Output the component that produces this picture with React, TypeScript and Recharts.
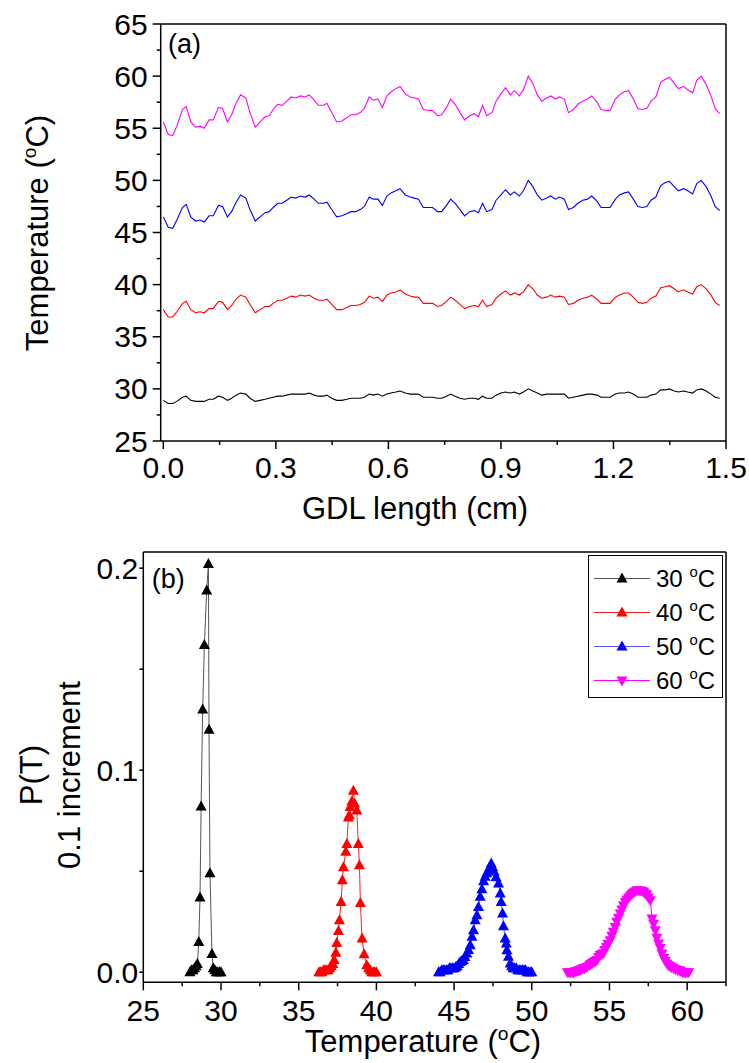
import React from "react";
import { LineChart, Line, XAxis, YAxis, Legend } from "recharts";

const FONT = "'Liberation Sans', Arial, Helvetica, sans-serif";

// (a) temperature along the GDL, one trace per set point
const gdlX = [
  0.000, 0.013, 0.025, 0.036, 0.051, 0.061, 0.073, 0.086, 0.098, 0.109,
  0.122, 0.133, 0.147, 0.158, 0.171, 0.182, 0.194, 0.206, 0.220, 0.231,
  0.245, 0.258, 0.271, 0.282, 0.293, 0.305, 0.317, 0.329, 0.341, 0.353,
  0.365, 0.378, 0.389, 0.402, 0.413, 0.427, 0.436, 0.449, 0.462, 0.476,
  0.489, 0.500, 0.513, 0.525, 0.536, 0.549, 0.560, 0.572, 0.584, 0.596,
  0.607, 0.620, 0.631, 0.645, 0.658, 0.669, 0.680, 0.693, 0.707, 0.718,
  0.731, 0.742, 0.755, 0.766, 0.778, 0.791, 0.803, 0.816, 0.829, 0.840,
  0.851, 0.862, 0.876, 0.887, 0.900, 0.912, 0.925, 0.936, 0.949, 0.960,
  0.973, 0.985, 0.997, 1.009, 1.022, 1.033, 1.045, 1.056, 1.069, 1.080,
  1.093, 1.105, 1.118, 1.131, 1.142, 1.156, 1.167, 1.180, 1.191, 1.205,
  1.216, 1.229, 1.240, 1.253, 1.265, 1.277, 1.289, 1.300, 1.313, 1.326,
  1.338, 1.349, 1.362, 1.373, 1.387, 1.398, 1.411, 1.422, 1.434, 1.447,
  1.460, 1.471, 1.483,
];
const temp30 = [
  28.9, 28.6, 28.6, 28.8, 29.2, 29.3, 28.9, 28.8, 28.8, 28.8,
  29.0, 29.0, 29.3, 29.2, 28.9, 29.1, 29.4, 29.6, 29.5, 29.1,
  28.8, 28.9, 29.0, 29.1, 29.2, 29.3, 29.3, 29.4, 29.5, 29.5,
  29.5, 29.5, 29.6, 29.4, 29.3, 29.3, 29.4, 29.1, 28.9, 28.9,
  29.0, 29.1, 29.1, 29.1, 29.2, 29.5, 29.4, 29.5, 29.3, 29.5,
  29.6, 29.7, 29.8, 29.6, 29.5, 29.5, 29.5, 29.2, 29.2, 29.2,
  29.1, 29.1, 29.3, 29.5, 29.3, 29.1, 29.0, 29.1, 29.1, 29.0,
  29.3, 29.1, 29.1, 29.4, 29.6, 29.7, 29.6, 29.7, 29.5, 29.7,
  30.0, 29.8, 29.6, 29.4, 29.5, 29.5, 29.5, 29.5, 29.5, 29.1,
  29.2, 29.3, 29.4, 29.5, 29.5, 29.4, 29.2, 29.2, 29.2, 29.5,
  29.6, 29.6, 29.7, 29.5, 29.2, 29.2, 29.2, 29.4, 29.5, 29.9,
  29.9, 30.0, 29.8, 29.7, 29.8, 29.7, 29.6, 29.9, 30.0, 29.8,
  29.5, 29.2, 29.1,
];
const temp40 = [
  37.6, 36.9, 36.9, 37.4, 38.2, 38.4, 37.6, 37.3, 37.4, 37.3,
  37.7, 37.7, 38.4, 38.3, 37.6, 38.0, 38.6, 39.0, 38.8, 38.1,
  37.3, 37.6, 37.9, 37.9, 38.2, 38.5, 38.5, 38.7, 38.9, 38.8,
  39.0, 38.9, 39.0, 38.7, 38.5, 38.5, 38.6, 38.1, 37.6, 37.6,
  37.8, 38.0, 38.0, 38.1, 38.3, 38.9, 38.7, 38.8, 38.4, 39.0,
  39.2, 39.3, 39.5, 39.1, 38.9, 38.8, 38.8, 38.2, 38.2, 38.2,
  37.9, 38.0, 38.4, 38.8, 38.5, 38.1, 37.7, 37.9, 38.0, 37.9,
  38.5, 37.9, 38.1, 38.7, 39.1, 39.4, 39.0, 39.2, 39.0, 39.3,
  40.0, 39.6, 39.0, 38.7, 38.8, 39.0, 38.8, 38.9, 38.8, 38.1,
  38.2, 38.5, 38.7, 38.8, 39.0, 38.6, 38.2, 38.2, 38.2, 38.8,
  39.0, 39.2, 39.2, 38.8, 38.3, 38.2, 38.3, 38.7, 38.9, 39.7,
  39.8, 39.9, 39.6, 39.3, 39.5, 39.3, 39.1, 39.8, 40.0, 39.6,
  39.0, 38.3, 38.0,
];
const temp50 = [
  46.5, 45.5, 45.4, 46.2, 47.4, 47.7, 46.5, 46.1, 46.2, 46.0,
  46.6, 46.6, 47.6, 47.5, 46.5, 47.0, 47.9, 48.6, 48.3, 47.2,
  46.1, 46.5, 46.9, 47.0, 47.4, 47.8, 47.8, 48.1, 48.4, 48.3,
  48.5, 48.4, 48.6, 48.2, 47.8, 47.8, 47.9, 47.2, 46.5, 46.6,
  46.8, 47.0, 47.0, 47.2, 47.5, 48.4, 48.2, 48.2, 47.6, 48.5,
  48.8, 49.0, 49.2, 48.6, 48.4, 48.3, 48.2, 47.4, 47.4, 47.4,
  47.0, 47.0, 47.6, 48.2, 47.8, 47.2, 46.6, 47.0, 47.1, 46.9,
  47.8, 47.0, 47.2, 48.1, 48.6, 49.1, 48.6, 48.9, 48.5, 49.0,
  50.0, 49.4, 48.6, 48.1, 48.3, 48.5, 48.2, 48.4, 48.2, 47.2,
  47.4, 47.8, 48.1, 48.2, 48.5, 48.0, 47.4, 47.4, 47.4, 48.2,
  48.6, 48.8, 48.9, 48.2, 47.5, 47.4, 47.5, 48.1, 48.4, 49.5,
  49.8, 49.9, 49.4, 49.0, 49.2, 49.0, 48.7, 49.7, 50.0, 49.4,
  48.5, 47.5, 47.1,
];
const temp60 = [
  55.6, 54.4, 54.3, 55.2, 56.8, 57.1, 55.6, 55.1, 55.2, 55.0,
  55.8, 55.8, 57.0, 56.9, 55.6, 56.3, 57.4, 58.2, 57.9, 56.5,
  55.1, 55.6, 56.1, 56.2, 56.8, 57.3, 57.2, 57.6, 58.0, 57.9,
  58.1, 58.0, 58.2, 57.7, 57.2, 57.2, 57.4, 56.5, 55.6, 55.7,
  56.0, 56.3, 56.3, 56.5, 56.9, 58.0, 57.7, 57.8, 57.0, 58.1,
  58.5, 58.8, 59.0, 58.3, 58.0, 57.9, 57.8, 56.8, 56.7, 56.7,
  56.2, 56.3, 57.0, 57.8, 57.3, 56.5, 55.8, 56.2, 56.4, 56.1,
  57.2, 56.2, 56.5, 57.6, 58.3, 58.9, 58.2, 58.6, 58.1, 58.7,
  60.0, 59.3, 58.2, 57.6, 57.9, 58.1, 57.8, 58.0, 57.8, 56.5,
  56.8, 57.3, 57.6, 57.8, 58.1, 57.5, 56.8, 56.7, 56.7, 57.8,
  58.2, 58.5, 58.6, 57.8, 56.9, 56.8, 56.9, 57.6, 58.0, 59.4,
  59.7, 59.9, 59.3, 58.8, 59.0, 58.7, 58.4, 59.6, 60.0, 59.2,
  58.1, 56.9, 56.4,
];

// (b) probability per 0.1 degC bin
const p30T = [28.0, 28.1, 28.2, 28.3, 28.4, 28.48, 28.57, 28.65, 28.72, 28.82, 28.93, 29.08, 29.19, 29.23, 29.29, 29.42, 29.5, 29.6, 29.7, 29.8, 29.9, 30.0];
const p30 = [0, 0.001, 0.001, 0.002, 0.003, 0.004, 0.015, 0.037, 0.082, 0.13, 0.162, 0.189, 0.202, 0.12, 0.049, 0.009, 0.002, 0.001, 0, 0, 0, 0];

const p40T = [
  36.3, 36.4, 36.5, 36.6, 36.7, 36.8, 36.9, 37.0, 37.1, 37.2,
  37.28, 37.39, 37.45, 37.56, 37.62, 37.73, 37.81, 37.88,
  38.03, 38.1, 38.2, 38.26, 38.31, 38.42, 38.52, 38.6, 38.74, 38.84, 38.91, 38.97,
  39.08, 39.21, 39.38, 39.5, 39.6, 39.7, 39.8, 39.9, 40.0,
];
const p40 = [
  0, 0, 0, 0.001, 0.001, 0.001, 0.001, 0.002, 0.003, 0.004,
  0.006, 0.0096, 0.0145, 0.0204, 0.0257, 0.0348, 0.0455, 0.052,
  0.0596, 0.0634, 0.0766, 0.0777, 0.0818, 0.0845, 0.0898, 0.0835, 0.08, 0.0634, 0.053, 0.0343,
  0.0167, 0.0089, 0.0035, 0.002, 0.001, 0, 0, 0, 0,
];

const p50T = [
  44.0, 44.1, 44.2, 44.3, 44.4, 44.5, 44.6, 44.7, 44.8, 44.9, 45.0, 45.1, 45.2, 45.3, 45.4, 45.5, 45.6, 45.7,
  45.82, 45.93, 46.04, 46.15, 46.25, 46.36, 46.47, 46.57, 46.68, 46.79, 46.9, 47.0, 47.1, 47.22, 47.3, 47.39,
  47.48, 47.58, 47.7, 47.86, 47.97, 48.03, 48.12, 48.18, 48.29, 48.36, 48.4, 48.5, 48.61,
  48.7, 48.8, 48.9, 49.0, 49.1, 49.2, 49.3, 49.4, 49.5, 49.6, 49.7, 49.8, 49.9, 50.0,
];
const p50 = [
  0, 0, 0.001, 0.001, 0.001, 0.001, 0.001, 0.002, 0.002, 0.002, 0.002, 0.0025, 0.003, 0.004, 0.005, 0.0055, 0.006, 0.0075,
  0.0093, 0.011, 0.0134, 0.0175, 0.0208, 0.0257, 0.0282, 0.0323, 0.0373, 0.041, 0.045, 0.0472, 0.049, 0.0505, 0.052, 0.0538,
  0.052, 0.0497, 0.047, 0.0439, 0.039, 0.0348, 0.029, 0.0228, 0.0167, 0.0142, 0.0109, 0.0076, 0.0043,
  0.003, 0.002, 0.002, 0.002, 0.001, 0.001, 0.001, 0.001, 0.001, 0.001, 0, 0, 0, 0,
];

const p60T = [
  52.3, 52.4, 52.5, 52.6, 52.7, 52.8, 52.9, 53.0, 53.1, 53.2, 53.3, 53.4,
  53.55, 53.7, 53.8, 53.9, 54.0, 54.1, 54.2, 54.3, 54.4, 54.5, 54.6, 54.7, 54.8, 54.9,
  55.05, 55.15, 55.25, 55.37, 55.47, 55.58, 55.69, 55.8, 55.9,
  56.02, 56.12, 56.23, 56.34, 56.45, 56.55, 56.66, 56.77, 56.88, 56.99,
  57.1, 57.2, 57.3, 57.4, 57.5, 57.63, 57.74, 57.84, 57.95,
  58.05, 58.16, 58.27, 58.38, 58.5, 58.6, 58.7, 58.8, 58.9, 59.0,
  59.13, 59.25, 59.4, 59.5, 59.6, 59.7, 59.8, 59.9, 60.0, 60.1,
];
const p60 = [
  0, 0, 0, 0, 0, 0.0005, 0.0005, 0.001, 0.001, 0.0015, 0.002, 0.002,
  0.0026, 0.0035, 0.004, 0.0045, 0.005, 0.0055, 0.006, 0.0075, 0.0085, 0.009, 0.0093, 0.011, 0.0125, 0.014,
  0.0158, 0.018, 0.02, 0.0224, 0.025, 0.027, 0.029, 0.031, 0.033,
  0.0348, 0.036, 0.037, 0.038, 0.0388, 0.0395, 0.04, 0.0406, 0.0405, 0.0404,
  0.0402, 0.0398, 0.039, 0.0385, 0.037, 0.0356, 0.0266, 0.024, 0.0208,
  0.017, 0.0142, 0.012, 0.0093, 0.007, 0.0055, 0.0043, 0.0035, 0.003, 0.0025,
  0.002, 0.0015, 0.001, 0.001, 0.0005, 0, 0, 0, 0, 0,
];

// ticks and their labels ("" = minor tick)
const gdlTicks = [0, 0.15, 0.3, 0.45, 0.6, 0.75, 0.9, 1.05, 1.2, 1.35, 1.5];
const gdlTickLabels = ["0.0", "", "0.3", "", "0.6", "", "0.9", "", "1.2", "", "1.5"];
const tempTicks = [25, 27.5, 30, 32.5, 35, 37.5, 40, 42.5, 45, 47.5, 50, 52.5, 55, 57.5, 60, 62.5, 65];
const tempTickLabels = ["25", "", "30", "", "35", "", "40", "", "45", "", "50", "", "55", "", "60", "", "65"];
const binTicks = [25, 27.5, 30, 32.5, 35, 37.5, 40, 42.5, 45, 47.5, 50, 52.5, 55, 57.5, 60, 62.5];
const binTickLabels = ["25", "", "30", "", "35", "", "40", "", "45", "", "50", "", "55", "", "60", ""];
const probTicks = [0, 0.05, 0.1, 0.15, 0.2];
const probTickLabels = ["0.0", "", "0.1", "", "0.2"];
const frameTicks = [0, 1, 2, 3, 4, 5, 6, 7, 8, 9, 10];

const legendNames = ["30", "40", "50", "60"];

const gdlRows = gdlX.map((x, i) => ({ x, t30: temp30[i], t40: temp40[i], t50: temp50[i], t60: temp60[i] }));
const pairs = (ts: number[], ps: number[]) => ts.map((t, i) => ({ t, p: ps[i] }));

const dists = [
  { name: legendNames[0], data: pairs(p30T, p30), fill: "#000000", line: "#555555", down: false },
  { name: legendNames[1], data: pairs(p40T, p40), fill: "#FF0000", line: "#FF2020", down: false },
  { name: legendNames[2], data: pairs(p50T, p50), fill: "#0000FF", line: "#5555FF", down: false },
  { name: legendNames[3], data: pairs(p60T, p60), fill: "#FF00FF", line: "#FF00FF", down: true },
];

function Tri({ cx, cy, fill, down }: { cx: number; cy: number; fill: string; down?: boolean }) {
  const pts = down
    ? `${cx},${cy + 6} ${cx - 5.5},${cy - 4} ${cx + 5.5},${cy - 4}`
    : `${cx},${cy - 6} ${cx - 5.5},${cy + 4} ${cx + 5.5},${cy + 4}`;
  return <polygon points={pts} fill={fill} />;
}

function bottomTick(labels: string[], labelDy: number) {
  return (p: any) => {
    const label = labels[p.index] ?? "";
    const len = label ? 8 : 4;
    return (
      <g>
        <line x1={p.x} x2={p.x} y1={p.y} y2={p.y + len} stroke="#000" strokeWidth={1.5} />
        {label && (
          <text x={p.x} y={p.y + labelDy} textAnchor="middle" fontSize={30} fontFamily={FONT} fill="#000">
            {label}
          </text>
        )}
      </g>
    );
  };
}

function leftTick(labels: string[], majorLen: number, gap: number) {
  return (p: any) => {
    const label = labels[p.index] ?? "";
    const len = label ? majorLen : 4;
    return (
      <g>
        <line x1={p.x - len} x2={p.x} y1={p.y} y2={p.y} stroke="#000" strokeWidth={1.5} />
        {label && (
          <text x={p.x - gap} y={p.y + 10.5} textAnchor="end" fontSize={30} fontFamily={FONT} fill="#000">
            {label}
          </text>
        )}
      </g>
    );
  };
}

const degC = (size: number) => (
  <>
    <tspan dy={-size * 0.4} fontSize={size * 0.62}>o</tspan>
    <tspan dy={size * 0.4}>C</tspan>
  </>
);

// px/py so that props cloned in by the axis label do not move the text
const TextAt = ({ px, py, size = 31, rotate, anchor = "middle", children }: any) => (
  <text
    x={px}
    y={py}
    fontSize={size}
    fontFamily={FONT}
    fill="#000"
    textAnchor={anchor}
    transform={rotate ? `rotate(-90 ${px} ${py})` : undefined}
  >
    {children}
  </text>
);

function PLegend() {
  return (
    <svg width={136} height={144} style={{ display: "block" }}>
      <rect x={0.5} y={0.5} width={134} height={142} fill="#fff" stroke="#000" strokeWidth={1} />
      {dists.map((d, i) => {
        const cy = 23.5 + i * 34;
        return (
          <g key={d.name}>
            <line x1={6} x2={62} y1={cy} y2={cy} stroke={d.line} strokeWidth={1} />
            <Tri cx={34} cy={cy} fill={d.fill} down={d.down} />
            <text x={68} y={cy + 8.5} fontSize={24} fontFamily={FONT} fill="#000">
              {d.name + " "}
              {degC(24)}
            </text>
          </g>
        );
      })}
    </svg>
  );
}

const axisStroke = { stroke: "#000", strokeWidth: 1.5 };

export default function App() {
  return (
    <div style={{ position: "absolute", left: 0, top: 0, width: 749, height: 1063, background: "#fff" }}>
      <div style={{ position: "absolute", left: 0, top: 0 }}>
        <LineChart width={749} height={530} data={gdlRows} margin={{ top: 24, right: 23, bottom: 59, left: 100 }}>
          <XAxis
            dataKey="x"
            type="number"
            domain={[-0.007, 1.5]}
            allowDataOverflow
            ticks={gdlTicks}
            interval={0}
            tickSize={0}
            tickMargin={0}
            tickLine={false}
            axisLine={axisStroke}
            tick={bottomTick(gdlTickLabels, 37)}
            height={30}
            label={<TextAt px={415} py={519}>GDL length (cm)</TextAt>}
          />
          <YAxis
            type="number"
            domain={[25, 65]}
            allowDataOverflow
            ticks={tempTicks}
            interval={0}
            tickSize={0}
            tickMargin={0}
            tickLine={false}
            axisLine={axisStroke}
            tick={leftTick(tempTickLabels, 8, 13)}
            width={60.7}
            label={
              <TextAt px={48} py={233} rotate>
                Temperature ({degC(31)})
              </TextAt>
            }
          />
          <XAxis
            xAxisId="frame"
            orientation="top"
            mirror
            type="number"
            domain={[0, 10]}
            allowDataOverflow
            ticks={frameTicks}
            interval={0}
            tick={false}
            tickSize={4}
            tickLine={axisStroke}
            axisLine={axisStroke}
            label={<TextAt px={168} py={53} size={27} anchor="start">(a)</TextAt>}
          />
          <YAxis
            yAxisId="frame"
            orientation="right"
            mirror
            type="number"
            domain={[0, 10]}
            allowDataOverflow
            ticks={frameTicks}
            interval={0}
            tick={false}
            tickSize={4}
            tickLine={axisStroke}
            axisLine={axisStroke}
          />
          <Line dataKey="t30" stroke="#000000" strokeWidth={1.1} dot={false} isAnimationActive={false} />
          <Line dataKey="t40" stroke="#FF0000" strokeWidth={1.1} dot={false} isAnimationActive={false} />
          <Line dataKey="t50" stroke="#0000FF" strokeWidth={1.1} dot={false} isAnimationActive={false} />
          <Line dataKey="t60" stroke="#FF00FF" strokeWidth={1.1} dot={false} isAnimationActive={false} />
        </LineChart>
      </div>

      <div style={{ position: "absolute", left: 0, top: 530 }}>
        <LineChart width={749} height={533} margin={{ top: 22, right: 23, bottom: 50.7, left: 83.3 }}>
          <XAxis
            dataKey="t"
            type="number"
            domain={[25, 62.5]}
            allowDataOverflow
            ticks={binTicks}
            interval={0}
            tickSize={0}
            tickMargin={0}
            tickLine={false}
            axisLine={axisStroke}
            tick={bottomTick(binTickLabels, 39)}
            height={30}
            label={
              <TextAt px={423} py={522}>
                Temperature ({degC(31)})
              </TextAt>
            }
          />
          <YAxis
            type="number"
            domain={[-0.005, 0.208]}
            allowDataOverflow
            ticks={probTicks}
            interval={0}
            tickSize={0}
            tickMargin={0}
            tickLine={false}
            axisLine={axisStroke}
            tick={leftTick(probTickLabels, 4, 5)}
            width={60}
            label={({}) => (
              <g>
                <TextAt px={42} py={245} rotate>P(T)</TextAt>
                <TextAt px={80} py={245} rotate>0.1 increment</TextAt>
              </g>
            )}
          />
          <XAxis
            xAxisId="frame"
            orientation="top"
            mirror
            type="number"
            domain={[0, 10]}
            allowDataOverflow
            ticks={frameTicks}
            interval={0}
            tick={false}
            tickSize={4}
            tickLine={axisStroke}
            axisLine={axisStroke}
            label={<TextAt px={151.7} py={58.3} size={27} anchor="start">(b)</TextAt>}
          />
          <YAxis
            yAxisId="frame"
            orientation="right"
            mirror
            type="number"
            domain={[0, 10]}
            allowDataOverflow
            ticks={frameTicks}
            interval={0}
            tick={false}
            tickSize={4}
            tickLine={axisStroke}
            axisLine={axisStroke}
          />
          {dists.map((d) => (
            <Line
              key={d.name}
              data={d.data}
              dataKey="p"
              stroke={d.line}
              strokeWidth={1}
              isAnimationActive={false}
              dot={(p: any) => <Tri key={p.index} cx={p.cx} cy={p.cy} fill={d.fill} down={d.down} />}
            />
          ))}
          <Legend
            layout="horizontal"
            verticalAlign="middle"
            align="center"
            content={() => <PLegend />}
            wrapperStyle={{ left: 587.7, top: 25, width: 136, height: 144 }}
          />
        </LineChart>
      </div>
    </div>
  );
}
